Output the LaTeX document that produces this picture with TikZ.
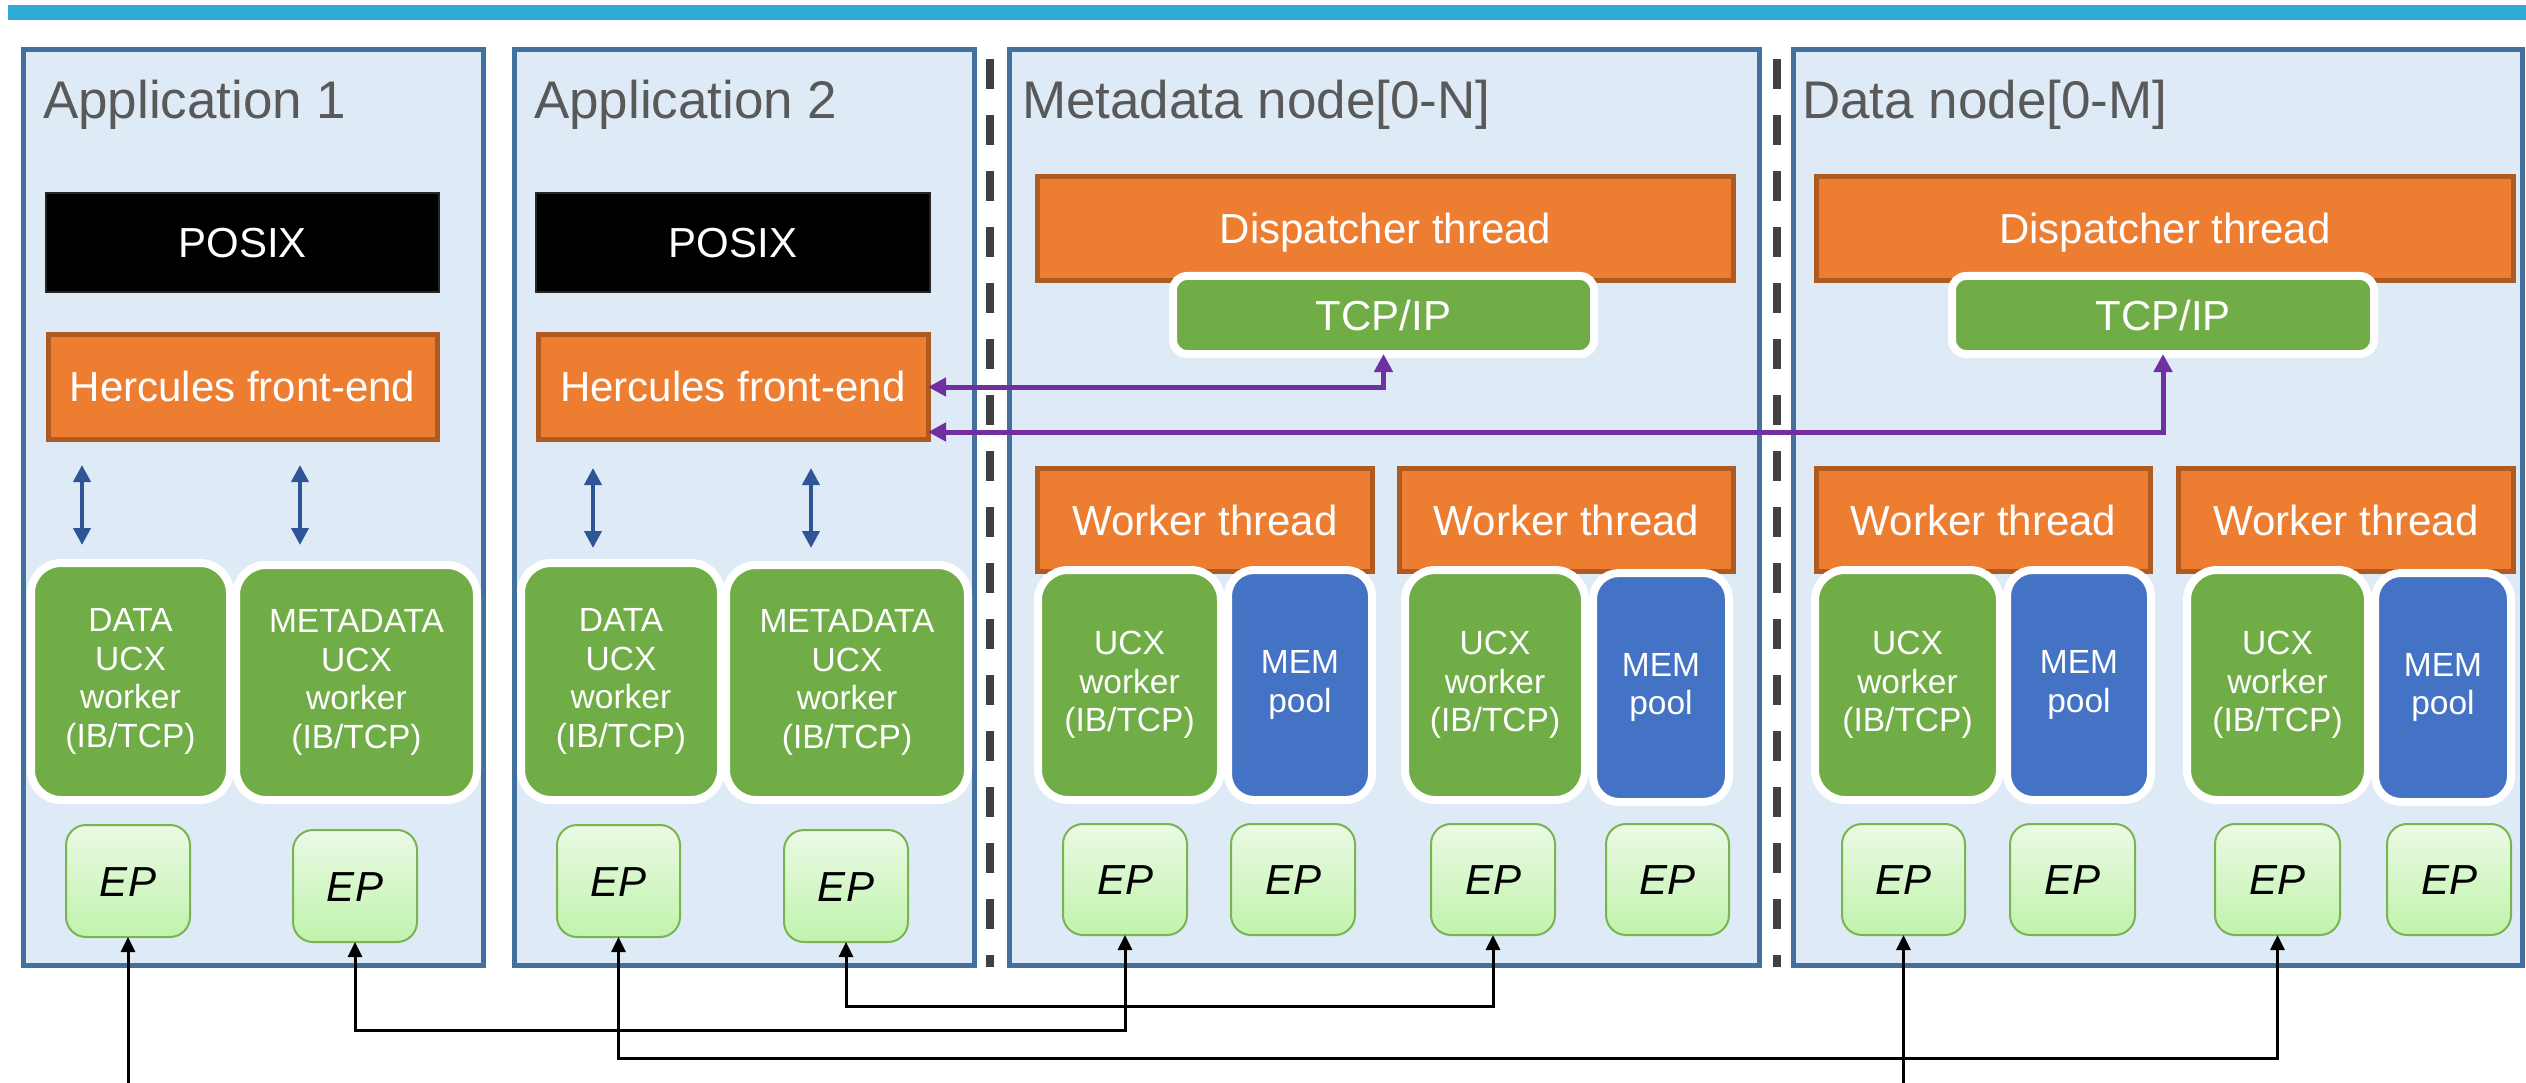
\documentclass[tikz,border=0pt]{standalone}
\usepackage{fontspec}
\setmainfont{Liberation Sans}
\usetikzlibrary{arrows.meta}
\definecolor{barblue}{RGB}{46,172,214}
\definecolor{panelfill}{RGB}{222,235,247}
\definecolor{panelline}{RGB}{65,113,156}
\definecolor{titlegray}{RGB}{89,89,89}
\definecolor{orangef}{RGB}{237,125,49}
\definecolor{oranged}{RGB}{174,90,33}
\definecolor{greenf}{RGB}{112,173,71}
\definecolor{memblue}{RGB}{68,114,196}
\definecolor{arrowblue}{RGB}{47,85,151}
\definecolor{purp}{RGB}{112,48,160}
\definecolor{eptop}{RGB}{235,250,229}
\definecolor{epbot}{RGB}{192,243,172}
\definecolor{epline}{RGB}{122,180,80}
\definecolor{dashgray}{RGB}{64,64,64}
\newcommand\fbig{\fontsize{42}{50}\selectfont}
\newcommand\ftitle{\fontsize{53}{63}\selectfont}
\newcommand\fsmall{\fontsize{33.5}{38.6}\selectfont}
\newcommand\mybox[7]{\node[#6, minimum width={#4-#2}, minimum height={#5-#3}] (#1) at ({(#2+#4)/2},{(#3+#5)/2}) {#7};}
\tikzset{
  every node/.style={inner sep=0pt, outer sep=0pt},
  panel/.style={draw=panelline, fill=panelfill, line width=5pt},
  ptitle/.style={text=titlegray, font=\ftitle, anchor=base west},
  posix/.style={fill=black, draw=black!85, line width=1.5pt, text=white, font=\fbig, text height=30pt, text depth=0pt},
  orangebox/.style={fill=orangef, draw=oranged, line width=5pt, text=white, font=\fbig, text height=30pt, text depth=0pt},
  ucx/.style={fill=greenf, draw=white, line width=8pt, rounded corners=30pt, text=white, font=\fsmall, align=center},
  mem/.style={fill=memblue, draw=white, line width=8pt, rounded corners=26pt, text=white, font=\fsmall, align=center},
  tcp/.style={fill=greenf, draw=white, line width=8pt, rounded corners=14pt, text=white, font=\fbig, text height=30pt, text depth=0pt},
  ep/.style={draw=epline, line width=2pt, rounded corners=20pt, top color=eptop, bottom color=epbot, font=\fbig\itshape, text height=30pt, text depth=0pt},
  sep/.style={draw=dashgray, line width=7.5pt, dash pattern=on 30pt off 26pt},
  bluearrow/.style={draw=arrowblue, line width=4pt, >={Triangle[length=17pt,width=17pt]}, <->},
  purparrow/.style={draw=purp, line width=5pt, >={Triangle[length=18pt,width=18pt]}, <->},
  blk/.style={draw=black, line width=3pt, >={Triangle[length=15pt,width=14pt]}}
}
\begin{document}
\begin{tikzpicture}[x=1pt,y=-1pt]
\useasboundingbox (0,0) rectangle (2526,1083);
\fill[barblue] (8,5) rectangle (2526,20);
% panels
\mybox{app1}{23}{50}{483}{965}{panel}{}
\mybox{app2}{514}{50}{974}{965}{panel}{}
\mybox{meta}{1009}{50}{1759}{965}{panel}{}
\mybox{data}{1793}{50}{2522}{965}{panel}{}
% separators
\coordinate (s1a) at (990,59); \coordinate (s1b) at (990,967);
\coordinate (s2a) at (1777,59); \coordinate (s2b) at (1777,967);
\draw[sep] (s1a) -- (s1b);
\draw[sep] (s2a) -- (s2b);
% titles
\node[ptitle] (t1) at (43,119) {Application 1};
\node[ptitle] (t2) at (534,119) {Application 2};
\node[ptitle] (t3) at (1022,119) {Metadata node[0-N]};
\node[ptitle] (t4) at (1802,119) {Data node[0-M]};
% application blocks
\mybox{posix1}{46}{193}{439}{292}{posix}{POSIX}
\mybox{posix2}{536}{193}{930}{292}{posix}{POSIX}
\mybox{herc1}{48}{334}{437}{439}{orangebox}{Hercules front-end}
\mybox{herc2}{538}{334}{928}{439}{orangebox}{Hercules front-end}
% dispatchers
\mybox{dispM}{1037.5}{176.5}{1733.5}{280.5}{orangebox}{Dispatcher thread}
\mybox{dispD}{1816.5}{176.5}{2513.5}{280.5}{orangebox}{Dispatcher thread}
\mybox{tcpM}{1173}{276}{1594}{354}{tcp}{TCP/IP}
\mybox{tcpD}{1952}{276}{2374}{354}{tcp}{TCP/IP}
% worker threads
\mybox{wtM1}{1037.5}{468.5}{1372.5}{571.5}{orangebox}{Worker thread}
\mybox{wtM2}{1399.5}{468.5}{1733.5}{571.5}{orangebox}{Worker thread}
\mybox{wtD1}{1816.5}{468.5}{2150.5}{571.5}{orangebox}{Worker thread}
\mybox{wtD2}{2178.5}{468.5}{2513.5}{571.5}{orangebox}{Worker thread}
% UCX workers and memory pools
\mybox{ucxA1}{31}{563}{230}{800}{ucx}{DATA\\UCX\\worker\\(IB/TCP)}
\mybox{ucxA2}{236}{565}{477}{800}{ucx}{METADATA\\UCX\\worker\\(IB/TCP)}
\mybox{ucxB1}{521}{563}{721}{800}{ucx}{DATA\\UCX\\worker\\(IB/TCP)}
\mybox{ucxB2}{726}{565}{968}{800}{ucx}{METADATA\\UCX\\worker\\(IB/TCP)}
\mybox{ucxM1}{1038}{570}{1221}{800}{ucx}{UCX\\worker\\(IB/TCP)}
\mybox{memM1}{1228}{570}{1372}{800}{mem}{MEM\\pool}
\mybox{ucxM2}{1405}{570}{1585}{800}{ucx}{UCX\\worker\\(IB/TCP)}
\mybox{memM2}{1593}{573}{1729}{802}{mem}{MEM\\pool}
\mybox{ucxD1}{1815}{570}{2000}{800}{ucx}{UCX\\worker\\(IB/TCP)}
\mybox{memD1}{2007}{570}{2151}{800}{mem}{MEM\\pool}
\mybox{ucxD2}{2187}{570}{2368}{800}{ucx}{UCX\\worker\\(IB/TCP)}
\mybox{memD2}{2375}{573}{2511}{802}{mem}{MEM\\pool}
% endpoints
\mybox{epA1}{66}{825}{190}{937}{ep}{EP}
\mybox{epA2}{293}{830}{417}{942}{ep}{EP}
\mybox{epB1}{557}{825}{680}{937}{ep}{EP}
\mybox{epB2}{784}{830}{908}{942}{ep}{EP}
\mybox{epM1}{1063}{824}{1187}{935}{ep}{EP}
\mybox{epM2}{1231}{824}{1355}{935}{ep}{EP}
\mybox{epM3}{1431}{824}{1555}{935}{ep}{EP}
\mybox{epM4}{1606}{824}{1729}{935}{ep}{EP}
\mybox{epD1}{1842}{824}{1965}{935}{ep}{EP}
\mybox{epD2}{2010}{824}{2135}{935}{ep}{EP}
\mybox{epD3}{2215}{824}{2340}{935}{ep}{EP}
\mybox{epD4}{2387}{824}{2511}{935}{ep}{EP}
% blue double arrows
\coordinate (ba1t) at (82,465); \coordinate (ba1b) at (82,545);
\coordinate (ba2t) at (300,465); \coordinate (ba2b) at (300,545);
\coordinate (ba3t) at (593,468); \coordinate (ba3b) at (593,548);
\coordinate (ba4t) at (811,468); \coordinate (ba4b) at (811,548);
\draw[bluearrow] (ba1t) -- (ba1b);
\draw[bluearrow] (ba2t) -- (ba2b);
\draw[bluearrow] (ba3t) -- (ba3b);
\draw[bluearrow] (ba4t) -- (ba4b);
% purple arrows
\coordinate (py1) at (0,387); \coordinate (py2) at (0,432);
\draw[purparrow] (herc2.east |- py1) -- (tcpM.south |- py1) -- (tcpM.south);
\draw[purparrow] (herc2.east |- py2) -- (tcpD.south |- py2) -- (tcpD.south);
% black connectors
\coordinate (bottom) at (0,1083);
\coordinate (y1) at (0,1006); \coordinate (y2) at (0,1030); \coordinate (y3) at (0,1058);
\draw[blk, <-] (epA1.south) -- (epA1.south |- bottom);
\draw[blk, <-] (epD1.south) -- (epD1.south |- bottom);
\draw[blk, <->] (epA2.south) -- (epA2.south |- y2) -- (epM1.south |- y2) -- (epM1.south);
\draw[blk, <->] (epB2.south) -- (epB2.south |- y1) -- (epM3.south |- y1) -- (epM3.south);
\draw[blk, <->] (epB1.south) -- (epB1.south |- y3) -- (epD3.south |- y3) -- (epD3.south);
\end{tikzpicture}
\end{document}
